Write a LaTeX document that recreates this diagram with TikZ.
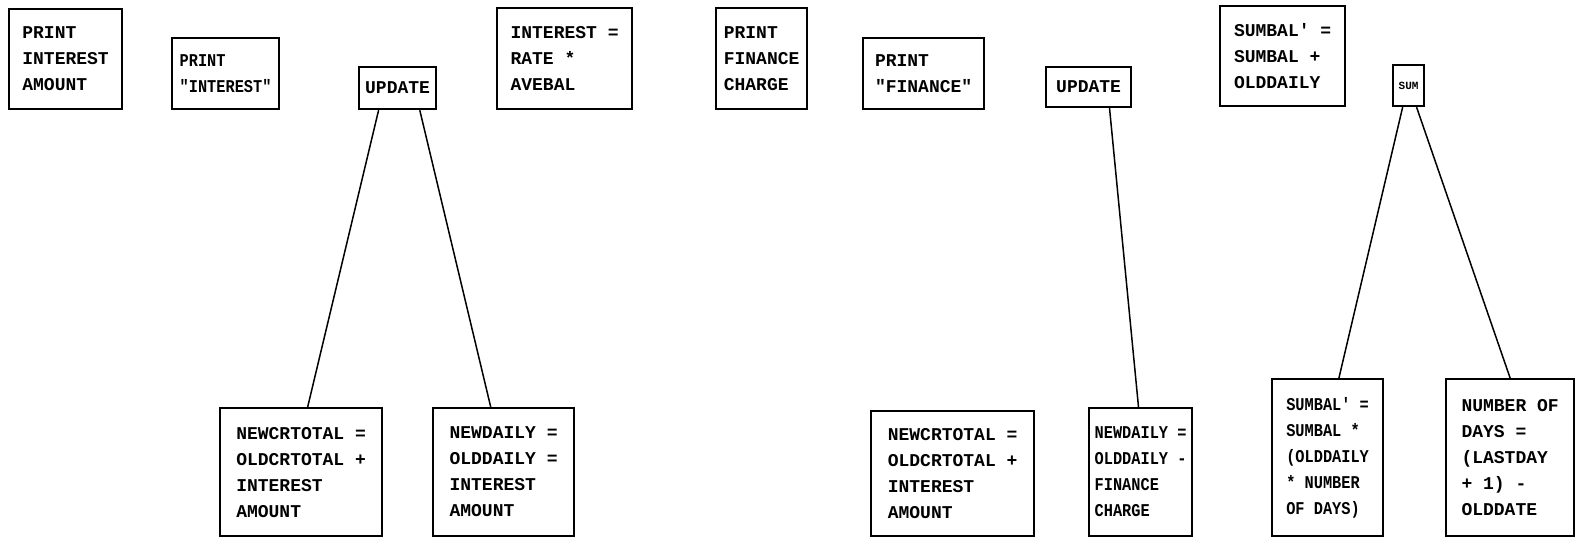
\documentclass[tikz,border=0pt]{standalone}
\usepackage{fontspec}
\setmonofont{Liberation Mono}
\newfontfamily\condmono[FakeStretch=0.85, BoldFont={Liberation Mono Bold}, BoldFeatures={FakeStretch=0.85}]{Liberation Mono}
\usetikzlibrary{calc}

\begin{document}
\begin{tikzpicture}[
    x=1pt, y=-1pt,
    stmt/.style={rectangle, draw=black, line width=2.2pt, anchor=north west,
                 align=left, inner sep=0pt,
                 font=\ttfamily\bfseries\fontsize{18}{26}\selectfont},
    narrow/.style={font=\condmono\bfseries\fontsize{18}{26}\selectfont},
    small/.style={font=\ttfamily\bfseries\fontsize{11}{14}\selectfont},
    link/.style={line width=1.5pt}
]
\useasboundingbox (0,0) rectangle (1576,537);

% Interest side, top row
\node[stmt, minimum width=113pt, minimum height=100pt] (printint) at (8,8) {PRINT\\INTEREST\\AMOUNT};
\node[stmt, narrow, minimum width=107pt, minimum height=71pt] (printstr) at (171,37) {PRINT\\"INTEREST"};
\node[stmt, minimum width=77pt, minimum height=42pt] (updint) at (358,66) {UPDATE};
\node[stmt, minimum width=135pt, minimum height=101pt] (intcalc) at (496,7) {INTEREST =\\RATE *\\AVEBAL};

% Interest side, bottom row
\node[stmt, minimum width=162pt, minimum height=128pt] (crtotint) at (219,407) {NEWCRTOTAL =\\OLDCRTOTAL +\\INTEREST\\AMOUNT};
\node[stmt, minimum width=141pt, minimum height=128pt] (dailyint) at (432,407) {NEWDAILY =\\OLDDAILY =\\INTEREST\\AMOUNT};

% Finance side, top row
\node[stmt, minimum width=91pt, minimum height=101pt] (printfin) at (715,7) {PRINT\\FINANCE\\CHARGE};
\node[stmt, minimum width=121pt, minimum height=71pt] (printfstr) at (862,37) {PRINT\\"FINANCE"};
\node[stmt, minimum width=85pt, minimum height=40pt] (updfin) at (1045,66) {UPDATE};
\node[stmt, minimum width=125pt, minimum height=100pt] (sumtop) at (1219,5) {SUMBAL' =\\SUMBAL +\\OLDDAILY};
\node[stmt, small, minimum width=31pt, minimum height=41pt] (sum) at (1392,64) {SUM};

% Finance side, bottom row
\node[stmt, minimum width=163pt, minimum height=125pt] (crtotfin) at (870,410) {NEWCRTOTAL =\\OLDCRTOTAL +\\INTEREST\\AMOUNT};
\node[stmt, narrow, minimum width=103pt, minimum height=128pt] (dailyfin) at (1088,407) {NEWDAILY =\\OLDDAILY -\\FINANCE\\CHARGE};
\node[stmt, narrow, minimum width=111pt, minimum height=157pt] (sumbot) at (1271,378) {SUMBAL' =\\SUMBAL *\\(OLDDAILY\\* NUMBER\\OF DAYS)};
\node[stmt, minimum width=128pt, minimum height=157pt] (numdays) at (1445,378) {NUMBER OF\\DAYS =\\(LASTDAY\\+ 1) -\\OLDDATE};

% Lines
\draw[link] ($(updint.south west)!0.26!(updint.south east)$) -- ($(crtotint.north west)!0.54!(crtotint.north east)$);
\draw[link] ($(updint.south west)!0.78!(updint.south east)$) -- ($(dailyint.north west)!0.41!(dailyint.north east)$);
\draw[link] ($(updfin.south west)!0.74!(updfin.south east)$) -- ($(dailyfin.north west)!0.48!(dailyfin.north east)$);
\draw[link] ($(sum.south west)!0.32!(sum.south east)$) -- ($(sumbot.north west)!0.6!(sumbot.north east)$);
\draw[link] ($(sum.south west)!0.74!(sum.south east)$) -- ($(numdays.north west)!0.5!(numdays.north east)$);

\end{tikzpicture}
\end{document}
